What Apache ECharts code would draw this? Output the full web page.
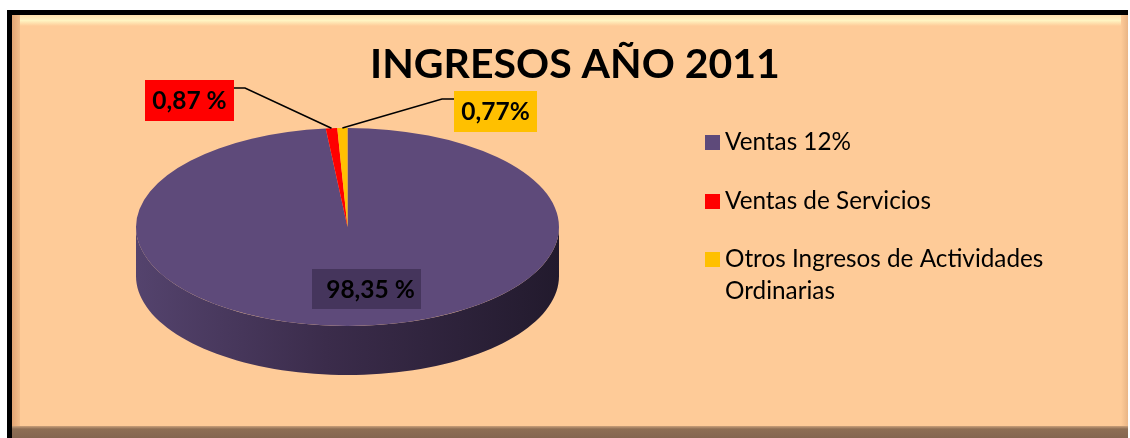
<!DOCTYPE html>
<html>
<head>
<meta charset="utf-8">
<script src="https://cdn.jsdelivr.net/npm/echarts@6/dist/echarts.min.js"></script>
<style>
html,body{margin:0;padding:0;background:#fff;}
#chart{width:1130px;height:438px;}
</style>
</head>
<body>
<div id="chart"></div>
<script>
// ---- data ----
const categories = ['Ventas 12%', 'Ventas de Servicios', 'Otros Ingresos de Actividades Ordinarias'];
const values = [98.35, 0.87, 0.77];
const labelTexts = ['98,35 %', '0,87 %', '0,77%'];
const titleText = 'INGRESOS AÑO 2011';

// ---- styles / layout ----
const colors = ['#5E4A7A', '#FF0000', '#FFC000'];
const labelBg = ['rgba(40,28,56,0.45)', '#FF0000', '#FFC000'];
const PIE = { cx: 347.5, cy: 227, rx: 211.5, ry: 99, depth: 49 };
// label boxes [x, y, w, h] and leader elbow/attach points (null = inside label)
const labelBoxes = [[312, 269, 109, 40], [145, 80, 89, 41], [454, 91, 83, 41]];
const leaders = [null, [[245, 88], [234, 88]], [[442, 99], [454, 99]]];
const FONT = 'Lato, "Open Sans", sans-serif';

const total = values.reduce((a, b) => a + b, 0);

function sliceAngles(i) {
  let cum = 0;
  for (let k = 0; k < i; k++) cum += values[k];
  const a0 = -Math.PI / 2 + cum / total * Math.PI * 2;
  const a1 = a0 + values[i] / total * Math.PI * 2;
  return [a0, a1];
}
function ellPt(t, dy) {
  return [PIE.cx + PIE.rx * Math.cos(t), PIE.cy + PIE.ry * Math.sin(t) + (dy || 0)];
}

function renderSlice(i) {
  return function (params, api) {
    const [a0, a1] = sliceAngles(i);
    const children = [];
    // visible front wall (screen angles 0..PI)
    for (let k = -1; k <= 1; k++) {
      const lo = Math.max(a0, k * 2 * Math.PI);
      const hi = Math.min(a1, k * 2 * Math.PI + Math.PI);
      if (hi > lo) {
        const pts = [];
        const n = 80;
        for (let s = 0; s <= n; s++) pts.push(ellPt(lo + (hi - lo) * s / n, 0));
        for (let s = n; s >= 0; s--) pts.push(ellPt(lo + (hi - lo) * s / n, PIE.depth));
        children.push({
          type: 'polygon',
          shape: { points: pts },
          style: {
            fill: i === 0 ? {
              type: 'linear', x: 0, y: 0, x2: 1, y2: 0,
              colorStops: [
                { offset: 0, color: '#54436D' },
                { offset: 0.45, color: '#3B2C4B' },
                { offset: 1, color: '#221A2D' }
              ]
            } : echarts.color.lift(colors[i], -0.4)
          }
        });
      }
    }
    // top face (squashed circle sector)
    children.push({
      type: 'group',
      x: PIE.cx, y: PIE.cy, scaleX: 1, scaleY: PIE.ry / PIE.rx,
      children: [{
        type: 'sector',
        shape: { cx: 0, cy: 0, r0: 0, r: PIE.rx, startAngle: a0, endAngle: a1, clockwise: true },
        style: { fill: api.visual('color') }
      }]
    });
    // label
    const box = labelBoxes[i];
    if (leaders[i]) {
      const mid = (a0 + a1) / 2;
      const anchor = ellPt(mid, 0);
      children.push({
        type: 'polyline',
        shape: { points: [anchor, leaders[i][0], leaders[i][1]] },
        style: { stroke: '#000', lineWidth: 1.6, fill: null }
      });
    }
    children.push({
      type: 'rect',
      shape: { x: box[0], y: box[1], width: box[2], height: box[3] },
      style: { fill: labelBg[i] }
    });
    children.push({
      type: 'text',
      style: {
        text: labelTexts[i],
        x: box[0] + box[2] / 2 + (i === 0 ? 4 : 0), y: box[1] + box[3] / 2 + 1,
        align: 'center', verticalAlign: 'middle',
        font: 'bold 24.5px ' + FONT, fill: '#000'
      }
    });
    return { type: 'group', children: children };
  };
}

const series = categories.map((name, i) => ({
  type: 'custom',
  name: name,
  coordinateSystem: 'none',
  itemStyle: { color: colors[i] },
  data: [values[i]],
  renderItem: renderSlice(i),
  z: 3
}));

const legendTops = [126.5, 185.5, 211.5];
const legends = categories.map((name, i) => ({
  data: [name],
  orient: 'vertical',
  left: 705,
  top: legendTops[i],
  padding: 0,
  icon: 'rect',
  itemWidth: 15,
  itemHeight: 15,
  formatter: i === 2 ? function () { return '\nOtros Ingresos de Actividades\nOrdinarias'; } : '{name}',
  textStyle: { fontFamily: FONT, fontSize: 24.3, color: '#000', lineHeight: 32 }
}));

const chart = echarts.init(document.getElementById('chart'));
chart.setOption({
  animation: false,
  backgroundColor: '#ffffff',
  graphic: [
    { type: 'rect', z: -10, shape: { x: 7, y: 10, width: 1121, height: 428 }, style: { fill: '#000' } },
    { type: 'rect', z: -9, shape: { x: 12, y: 15, width: 1116, height: 423 }, style: { fill: '#FECB98' } },
    { type: 'rect', z: -8, shape: { x: 12, y: 15, width: 1116, height: 11 },
      style: { fill: { type: 'linear', x: 0, y: 0, x2: 0, y2: 1, colorStops: [
        { offset: 0, color: '#FFE0AE' }, { offset: 0.5, color: '#FFF4C2' }, { offset: 1, color: '#FECB98' }] } } },
    { type: 'rect', z: -8, shape: { x: 12, y: 15, width: 8, height: 423 },
      style: { fill: { type: 'linear', x: 0, y: 0, x2: 1, y2: 0, colorStops: [
        { offset: 0, color: '#E2A574' }, { offset: 1, color: '#F3BE8B' }] } } },
    { type: 'rect', z: -8, shape: { x: 1121, y: 15, width: 7, height: 423 },
      style: { fill: { type: 'linear', x: 0, y: 0, x2: 1, y2: 0, colorStops: [
        { offset: 0, color: '#FECB98' }, { offset: 1, color: '#E9B585' }] } } },
    { type: 'rect', z: -7, shape: { x: 12, y: 426, width: 1116, height: 12 },
      style: { fill: { type: 'linear', x: 0, y: 0, x2: 0, y2: 1, colorStops: [
        { offset: 0, color: '#C9A07A' }, { offset: 0.25, color: '#8E6E54' }, { offset: 1, color: '#846650' }] } } }
  ],
  title: {
    text: titleText,
    left: 575,
    textAlign: 'center',
    top: 42,
    padding: 0,
    textStyle: { fontFamily: FONT, fontWeight: 'bold', fontSize: 41, color: '#000', lineHeight: 46 }
  },
  legend: legends,
  series: series
});
</script>
</body>
</html>
